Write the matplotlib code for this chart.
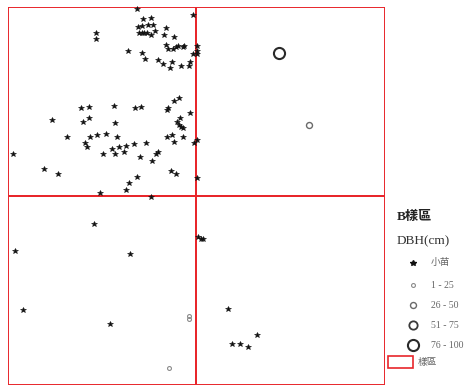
import matplotlib.pyplot as plt
from matplotlib.patches import Rectangle

# 樣區座標 (m)，100 x 100，分成四個 50 x 50 小區
plot_size = 100
sub_size = 50

# 小苗位置
seedling_x = [34.2, 49.1, 36.0, 37.9, 23.4, 23.4, 34.5, 35.7, 37.2, 38.5,
              34.9, 35.5, 36.2, 37.0, 37.9, 39.1, 41.9, 41.5, 44.2, 32.0,
              41.9, 42.4, 43.9, 44.6, 45.1, 46.4, 46.7, 50.1, 50.3, 50.1,
              49.2, 35.6, 36.3, 39.9, 41.2, 43.6, 43.0, 46.0, 48.0, 48.3,
              19.5, 21.7, 28.2, 33.7, 35.3, 42.2, 42.6, 44.2, 45.5, 48.3,
              11.9, 20.0, 21.5, 28.6, 44.8, 45.7, 45.4, 46.0, 46.6, 46.4,
              42.3, 43.6, 15.8, 21.9, 23.6, 26.1, 28.9, 20.5, 21.1, 25.4,
              27.8, 28.5, 29.5, 31.4, 30.9, 33.4, 36.7, 35.2, 39.3, 39.9,
              38.3, 44.1, 49.5, 50.1, 1.4, 9.7, 13.3, 43.4, 44.6, 34.3,
              32.3, 31.3, 24.5, 37.9, 50.1,
              23.0, 2.1, 32.4, 50.5, 51.3, 51.7, 4.1, 27.2, 58.4, 66.2,
              59.5, 61.6, 63.6]
seedling_y = [99.3, 97.8, 96.6, 97.0, 93.0, 91.4, 94.5, 94.8, 95.1, 95.0,
              92.9, 92.9, 92.9, 93.1, 92.5, 93.4, 94.4, 92.4, 91.9, 88.3,
              89.8, 88.8, 88.7, 89.3, 89.6, 89.4, 89.6, 89.6, 88.3, 87.4,
              87.4, 87.6, 86.0, 85.9, 84.7, 85.4, 83.7, 84.4, 84.4, 85.4,
              73.1, 73.4, 73.6, 73.1, 73.4, 72.6, 73.1, 75.0, 75.7, 71.9,
              70.0, 69.6, 70.5, 69.3, 69.6, 70.5, 68.7, 68.1, 67.9, 65.6,
              65.6, 66.0, 65.4, 65.6, 66.1, 66.4, 65.6, 63.9, 62.9, 61.1,
              62.3, 61.0, 62.8, 63.1, 61.5, 63.7, 63.9, 60.2, 61.0, 61.6,
              59.1, 64.1, 63.9, 64.7, 61.0, 57.1, 55.8, 56.5, 55.7, 55.0,
              53.4, 51.4, 50.6, 49.7, 54.6,
              42.6, 35.3, 34.5, 39.2, 38.5, 38.5, 19.7, 16.1, 20.0, 13.1,
              10.8, 10.8, 10.0]

# 樹木位置與胸徑級
tree_x = [48.0, 48.0, 42.8, 79.9, 71.9]
tree_y = [18.1, 17.5, 4.4, 68.6, 87.8]
tree_class = ['1 - 25', '1 - 25', '1 - 25', '26 - 50', '76 - 100']

dbh_classes = ['1 - 25', '26 - 50', '51 - 75', '76 - 100']
class_size = {'1 - 25': 2.8, '26 - 50': 4.3, '51 - 75': 6.0, '76 - 100': 8.0}
class_edge = {'1 - 25': '#8a8a8a', '26 - 50': '#6a6a6a', '51 - 75': '#3a3a3a', '76 - 100': '#2a2a2a'}
class_lw = {'1 - 25': 0.8, '26 - 50': 1.0, '51 - 75': 1.3, '76 - 100': 1.5}

red = '#e8262b'
serif_cjk = ['Liberation Serif', 'Noto Sans CJK TC']

fig = plt.figure(figsize=(4.71, 3.88), dpi=100)
W, H = 471, 388
ax = fig.add_axes([7.5 / W, 3 / H, 377.5 / W, 378.5 / H])
ax.set_xlim(0, plot_size)
ax.set_ylim(0, plot_size)
ax.axis('off')

# 小區邊界
for i in range(2):
    for j in range(2):
        ax.add_patch(Rectangle((i * sub_size, j * sub_size), sub_size, sub_size,
                               fill=False, edgecolor=red, linewidth=1.4, zorder=1))

ax.plot(seedling_x, seedling_y, linestyle='none', marker='*', markersize=4.0,
        color='#111111', markeredgewidth=0.4, zorder=3, clip_on=False)

for x, y, c in zip(tree_x, tree_y, tree_class):
    ax.plot(x, y, linestyle='none', marker='o', markersize=class_size[c],
            markerfacecolor='none', markeredgecolor=class_edge[c],
            markeredgewidth=class_lw[c], zorder=4)

# 圖例 (像素座標)
lg = fig.add_axes([385 / W, 0, 86 / W, 1])
lg.set_xlim(385, 471)
lg.set_ylim(388, 0)
lg.axis('off')

lg.text(397, 217, 'B樣區', family=serif_cjk, fontsize=9.5, fontweight='bold',
        color='#222222', va='center', ha='left')
lg.text(397, 241, 'DBH(cm)', family=serif_cjk, fontsize=9.5,
        color='#333333', va='center', ha='left')

text_color = '#666666'
lg.plot(413, 263, marker='*', markersize=4.0, color='#111111', linestyle='none')
lg.text(431, 263, '小苗', family=serif_cjk, fontsize=7, color=text_color, va='center')
rows_y = [285, 305, 325, 345]
for c, y in zip(dbh_classes, rows_y):
    lg.plot(413, y, marker='o', markersize=class_size[c], markerfacecolor='none',
            markeredgecolor=class_edge[c], markeredgewidth=class_lw[c], linestyle='none')
    lg.text(431, y, c, family=serif_cjk, fontsize=7, color=text_color, va='center')

lg.add_patch(Rectangle((388, 356), 25, 12, fill=False, edgecolor=red, linewidth=1.2))
lg.text(418, 362, '樣區', family=serif_cjk, fontsize=7, color=text_color, va='center')

fig.savefig('out.png', dpi=100)
